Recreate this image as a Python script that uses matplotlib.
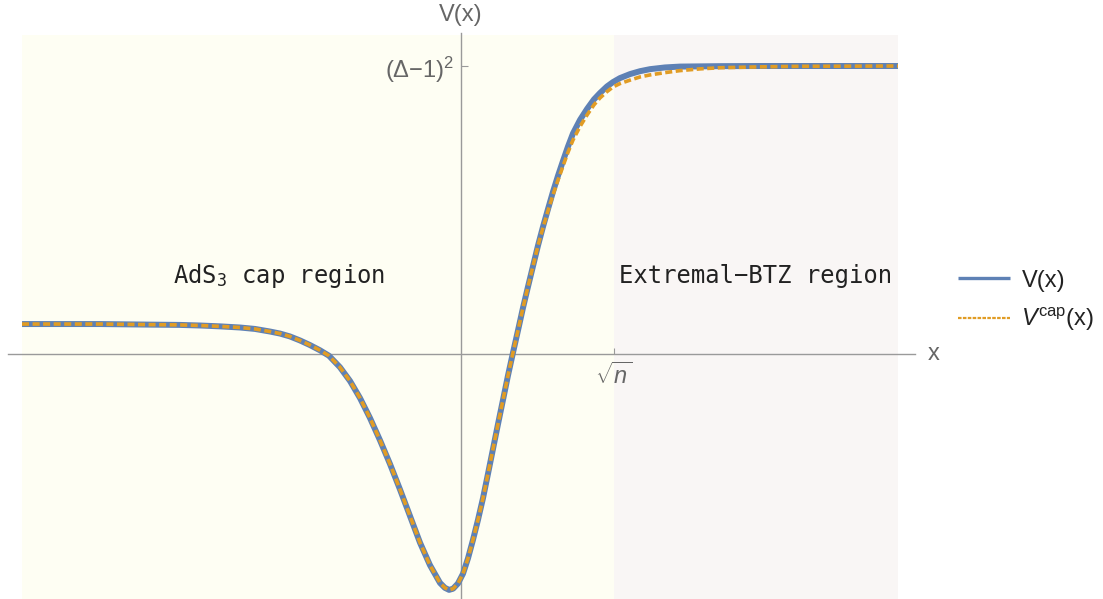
import matplotlib
matplotlib.use("Agg")
import matplotlib.pyplot as plt

plt.rcParams['font.family'] = ['Liberation Sans', 'DejaVu Sans']
plt.rcParams['mathtext.fontset'] = 'custom'
plt.rcParams['mathtext.rm'] = 'Liberation Sans'
plt.rcParams['mathtext.it'] = 'Liberation Sans:italic'

# ---- data (x in units of sqrt(n), V in units of (Delta-1)^2) ----
# part where V and V^cap coincide
x_shared = [-2.869, -2.359, -2.033, -1.837, -1.706, -1.575, -1.444, -1.346, -1.248, -1.183,
            -1.118, -1.052, -0.987, -0.922, -0.863, -0.791, -0.725, -0.660, -0.595, -0.529,
            -0.464, -0.399, -0.333, -0.268, -0.203, -0.137, -0.105, -0.078, -0.052, -0.020,
            0.013, 0.046, 0.078, 0.111, 0.144, 0.176, 0.209, 0.242, 0.275, 0.307,
            0.340, 0.373, 0.405, 0.438, 0.471, 0.503]
v_shared = [0.104, 0.104, 0.102, 0.101, 0.099, 0.096, 0.092, 0.087, 0.078, 0.071,
            0.061, 0.047, 0.031, 0.013, -0.006, -0.046, -0.094, -0.153, -0.222, -0.300,
            -0.382, -0.470, -0.563, -0.655, -0.733, -0.795, -0.812, -0.819, -0.815, -0.797,
            -0.763, -0.709, -0.646, -0.576, -0.500, -0.417, -0.330, -0.243, -0.158, -0.075,
            0.005, 0.083, 0.160, 0.234, 0.306, 0.376]
# V(x) beyond that
x_v_tail = [0.536, 0.569, 0.601, 0.634, 0.667, 0.699, 0.732, 0.778, 0.824, 0.869,
            0.908, 0.954, 0.993, 1.039, 1.105, 1.170, 1.235, 1.333, 1.431, 1.693,
            1.954, 2.856]
v_v_tail = [0.442, 0.504, 0.563, 0.619, 0.671, 0.720, 0.766, 0.813, 0.851, 0.884,
            0.906, 0.929, 0.944, 0.958, 0.972, 0.982, 0.989, 0.995, 0.998, 0.9995,
            1.0, 1.0]
# V^cap(x) beyond that
x_cap_tail = [0.536, 0.569, 0.601, 0.634, 0.667, 0.699, 0.732, 0.778, 0.824, 0.869,
              0.908, 0.954, 0.993, 1.039, 1.105, 1.170, 1.235, 1.333, 1.431, 1.562,
              1.693, 1.954, 2.216, 2.856]
v_cap_tail = [0.439, 0.498, 0.552, 0.604, 0.653, 0.700, 0.743, 0.790, 0.830, 0.865,
              0.889, 0.911, 0.927, 0.939, 0.951, 0.962, 0.969, 0.977, 0.984, 0.990,
              0.994, 0.997, 0.999, 1.0]

region_edges = [-2.869, 1.0, 2.856]
region_labels = ["AdS$_\\mathregular{3}$ cap region", "Extremal\u2212BTZ region"]
region_label_x = [-1.19, 1.925]
region_colors = ['#FEFEF3', '#F9F6F5']
x_tick_pos = [1.0]
x_tick_labels = [r'$\sqrt{n}$']
y_tick_pos = [1.0]
y_tick_labels = [r'($\Delta$$-$1)$^2$']

x_v = x_shared + x_v_tail
v_v = v_shared + v_v_tail
x_cap = x_shared + x_cap_tail
v_cap = v_shared + v_cap_tail

Y_LO, Y_HI = -0.8507, 1.2292
fig = plt.figure(figsize=(11.03, 5.99), dpi=100)
ax = fig.add_axes([0, 0, 1, 1])
ax.set_xlim(-3.013, 4.196)
ax.set_ylim(Y_LO, Y_HI)
for s in ['top', 'right']:
    ax.spines[s].set_visible(False)
ax.spines['left'].set_position(('data', 0))
ax.spines['bottom'].set_position(('data', 0))
ax.spines['left'].set_bounds(Y_LO, 1.1146)
ax.spines['bottom'].set_bounds(-2.961, 2.967)
for s in ['left', 'bottom']:
    ax.spines[s].set_color('#9a9a9a')
    ax.spines[s].set_linewidth(1.0)
    ax.spines[s].set_zorder(1)

top_frac = (1.1076 - Y_LO) / (Y_HI - Y_LO)
for i in range(2):
    ax.axvspan(region_edges[i], region_edges[i + 1], ymin=0, ymax=top_frac,
               color=region_colors[i], lw=0, zorder=0)

ax.plot(x_v, v_v, color='#5E81B5', lw=4.3, solid_capstyle='butt',
        solid_joinstyle='round', zorder=3, label='V(x)')
ax.plot(x_cap, v_cap, color='#E19C24', lw=2.6, linestyle=(0, (1.95, 0.97)),
        dash_capstyle='butt', zorder=4, label=r'$V^{\mathregular{cap}}$(x)')

ax.set_xticks(x_tick_pos)
ax.set_xticklabels(x_tick_labels)
ax.set_yticks(y_tick_pos)
ax.set_yticklabels(y_tick_labels)
ax.tick_params(axis='x', direction='in', length=4, color='#9a9a9a', labelsize=17,
               labelcolor='#666666', pad=6)
ax.tick_params(axis='y', direction='in', length=5, color='#9a9a9a', labelsize=17,
               labelcolor='#666666', pad=5)

ax.text(2.967 + 0.085, 0.0, 'x', fontsize=17, color='#666666', ha='left', va='center')
ax.text(0.0, 1.177, 'V(x)', fontsize=17, color='#666666', ha='center', va='center')

for i in range(2):
    ax.text(region_label_x[i], 0.271, region_labels[i], family='DejaVu Sans Mono',
            fontsize=17.2, ha='center', va='center', color='#222222')

leg = ax.legend(loc='center left', bbox_to_anchor=(0.849, 0.497), frameon=False,
                fontsize=17, handlelength=2.2, handletextpad=0.5, labelspacing=0.6)
for t in leg.get_texts():
    t.set_color('#222222')
hl = leg.get_lines()
hl[0].set_linewidth(2.4)
hl[1].set_linewidth(1.6)
hl[1].set_linestyle((0, (1.6, 0.6)))

fig.savefig('out.png', dpi=100)
